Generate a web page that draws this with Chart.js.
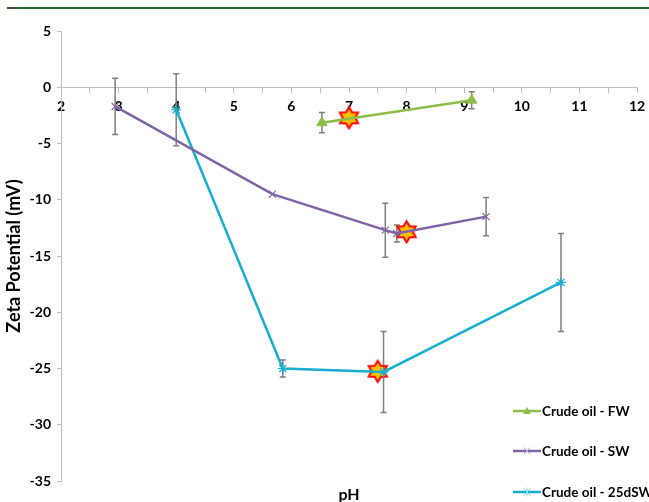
<!DOCTYPE html>
<html>
<head>
<meta charset="utf-8">
<script src="https://cdn.jsdelivr.net/npm/chart.js@4/dist/chart.umd.min.js"></script>
<style>
  html, body { margin: 0; padding: 0; background: #fff; }
  #wrap { position: relative; width: 649px; height: 502px; overflow: hidden; }
  #rule { position: absolute; left: 7px; right: 0; top: 7px; height: 2px; background: #2B5F37; }
  #cv { position: absolute; left: 0; top: 0; }
  #xtitle { position: absolute; left: 299px; width: 100px; top: 484px; text-align: center;
            font: bold 16px Lato, sans-serif; color: #000; }
  #legend { position: absolute; left: 513px; top: 400px; font: bold 13.5px Lato, sans-serif; color: #000; }
  .item { position: absolute; left: 0; height: 22px; display: flex; align-items: center; white-space: nowrap; }
  .item svg { margin-right: 1px; }
</style>
</head>
<body>
<div id="wrap">
  <div id="rule"></div>
  <canvas id="cv" width="649" height="502"></canvas>
  <div id="xtitle">pH</div>
  <div id="legend"></div>
</div>
<script>
// Zeta potential of crude oil vs pH in three brines
const fwPH   = [6.53, 9.13];
const fwZeta = [-3.15, -1.15];
const fwErr  = [0.9, 0.75];

const swPH   = [2.94, 5.67, 7.63, 7.83, 9.38];
const swZeta = [-1.7, -9.5, -12.7, -13.0, -11.5];
const swErr  = [2.5, 0, 2.4, 0.75, 1.7];

const dswPH   = [4.0, 5.85, 7.6, 10.68];
const dswZeta = [-2.0, -25.0, -25.3, -17.35];
const dswErr  = [3.2, 0.75, 3.6, 4.35];

// highlighted natural-pH points
const markPH   = [7.0, 8.0, 7.5];
const markZeta = [-2.72, -12.85, -25.25];

const seriesNames = ['Crude oil - FW', 'Crude oil - SW', 'Crude oil - 25dSW'];
const seriesColors = ['#8DBE4A', '#8064A8', '#17AECF'];

const xTicks = { min: 2, max: 12, step: 0.5 };
const yTicks = { min: -35, max: 5, step: 5 };

const pts = (xs, ys) => xs.map((x, i) => ({ x: x, y: ys[i] }));

// six-pointed marker drawn once and used as a point style
function hexStar(r) {
  const c = document.createElement('canvas');
  const s = Math.ceil(r * 2 + 4);
  c.width = s; c.height = s;
  const g = c.getContext('2d');
  const cx = s / 2, cy = s / 2, ri = r * 0.6;
  g.beginPath();
  for (let k = 0; k < 12; k++) {
    const a = -Math.PI / 2 + k * Math.PI / 6;
    const rr = k % 2 === 0 ? r : ri;
    const px = cx + rr * Math.cos(a), py = cy + rr * Math.sin(a);
    k === 0 ? g.moveTo(px, py) : g.lineTo(px, py);
  }
  g.closePath();
  g.fillStyle = '#FFC000';
  g.fill();
  g.lineWidth = 2;
  g.strokeStyle = '#FF0000';
  g.lineJoin = 'miter';
  g.stroke();
  return c;
}

const errorBars = {
  id: 'errorBars',
  beforeDatasetsDraw(chart) {
    const ctx = chart.ctx, xs = chart.scales.x, ys = chart.scales.y;
    ctx.save();
    ctx.strokeStyle = '#7F7F7F';
    ctx.lineWidth = 1.5;
    chart.data.datasets.forEach(ds => {
      if (!ds.err) return;
      ds.data.forEach((p, i) => {
        const e = ds.err[i];
        if (!e) return;
        const px = xs.getPixelForValue(p.x);
        const top = ys.getPixelForValue(p.y + e);
        const bot = ys.getPixelForValue(p.y - e);
        ctx.beginPath();
        ctx.moveTo(px, top); ctx.lineTo(px, bot);
        ctx.moveTo(px - 3, top); ctx.lineTo(px + 3, top);
        ctx.moveTo(px - 3, bot); ctx.lineTo(px + 3, bot);
        ctx.stroke();
      });
    });
    ctx.restore();
  }
};

const styles = ['triangle', 'crossRot', 'star'];
const radii = [6, 5, 5];

new Chart(document.getElementById('cv'), {
  type: 'scatter',
  data: {
    datasets: [
      { label: seriesNames[0], data: pts(fwPH, fwZeta), err: fwErr, showLine: true,
        borderColor: seriesColors[0], backgroundColor: seriesColors[0], borderWidth: 2.5,
        pointStyle: styles[0], pointRadius: radii[0], pointBorderWidth: 1 },
      { label: seriesNames[1], data: pts(swPH, swZeta), err: swErr, showLine: true,
        borderColor: seriesColors[1], backgroundColor: seriesColors[1], borderWidth: 2.5,
        pointStyle: styles[1], pointRadius: radii[1], pointBorderWidth: 1.2 },
      { label: seriesNames[2], data: pts(dswPH, dswZeta), err: dswErr, showLine: true,
        borderColor: seriesColors[2], backgroundColor: seriesColors[2], borderWidth: 2.5,
        pointStyle: styles[2], pointRadius: radii[2], pointBorderWidth: 1.2 },
      { label: 'natural pH', data: pts(markPH, markZeta), showLine: false,
        pointStyle: hexStar(10.5), pointRadius: 10.5 }
    ]
  },
  options: {
    responsive: false,
    animation: false,
    layout: { padding: { left: 0, right: 12, top: 31, bottom: 21 } },
    plugins: { legend: { display: false }, tooltip: { enabled: false } },
    scales: {
      x: {
        type: 'linear', min: xTicks.min, max: xTicks.max,
        position: { y: 0 },
        afterFit(s) { s.height = 0; s.paddingLeft = 0; s.paddingRight = 0; },
        border: { color: '#BFBFBF', width: 1 },
        grid: { drawOnChartArea: false, drawTicks: true, tickLength: 5, color: '#BFBFBF' },
        ticks: {
          stepSize: xTicks.step, autoSkip: false, maxRotation: 0, padding: 6,
          color: '#000', font: { family: 'Lato', weight: 'bold', size: 14 },
          callback: v => Number.isInteger(v) ? String(v) : ''
        }
      },
      y: {
        type: 'linear', min: yTicks.min, max: yTicks.max,
        afterFit(s) { s.width = 61; s.paddingTop = 0; s.paddingBottom = 0; },
        border: { color: '#BFBFBF', width: 1 },
        grid: { drawOnChartArea: false, drawTicks: true, tickLength: 4, color: '#BFBFBF' },
        ticks: { stepSize: yTicks.step, padding: 6, color: '#000',
                 font: { family: 'Lato', weight: 'bold', size: 14 } },
        title: { display: true, text: 'Zeta Potential (mV)', color: '#000',
                 font: { family: 'Lato', weight: 'bold', size: 18 }, padding: { top: 3, bottom: 0 } }
      }
    }
  },
  plugins: [errorBars]
});

// legend: line sample with marker, then series name
const legendRows = [411, 451, 492];
const leg = document.getElementById('legend');
seriesNames.forEach((name, i) => {
  const c = seriesColors[i];
  let mark = '';
  if (i === 0) mark = `<polygon points="14,6 18,13 10,13" fill="${c}"/>`;
  if (i === 1) mark = `<path d="M10.5,6.5 L17.5,13.5 M17.5,6.5 L10.5,13.5" stroke="#B9A6D6" stroke-width="1"/>`;
  if (i === 2) mark = `<path d="M10.5,6.5 L17.5,13.5 M17.5,6.5 L10.5,13.5 M14,5.5 L14,14.5" stroke="#8FD8EA" stroke-width="1"/>`;
  const div = document.createElement('div');
  div.className = 'item';
  div.style.top = (legendRows[i] - 400 - 11) + 'px';
  div.innerHTML = `<svg width="28" height="20"><line x1="0" y1="10" x2="28" y2="10" stroke="${c}" stroke-width="2.5"/>${mark}</svg><span>${name}</span>`;
  leg.appendChild(div);
});
</script>
</body>
</html>
